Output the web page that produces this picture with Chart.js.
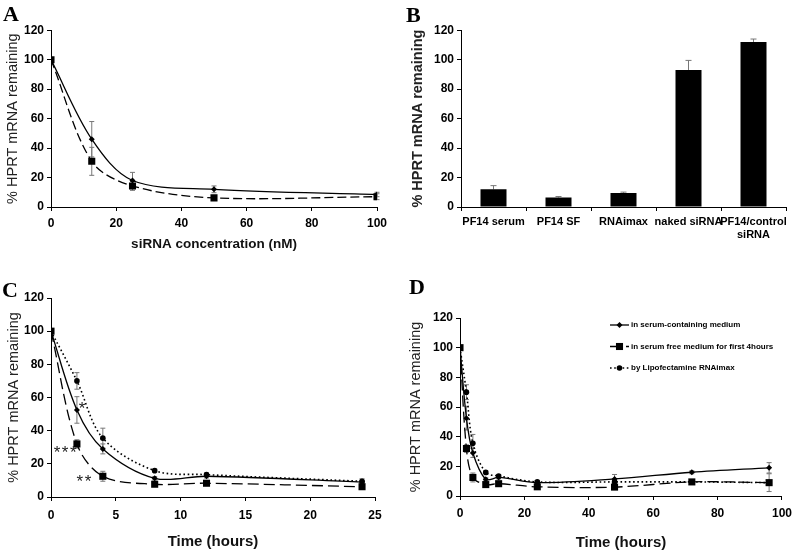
<!DOCTYPE html>
<html>
<head>
<meta charset="utf-8">
<script src="https://cdn.jsdelivr.net/npm/chart.js@4.4.1/dist/chart.umd.min.js"></script>
<style>
  body { margin: 0; background: #fff; width: 798px; height: 553px; position: relative; overflow: hidden; }
  canvas { position: absolute; }
  .tag { position: absolute; font-family: 'Liberation Serif', 'Times New Roman', serif; font-weight: bold; font-size: 22px; line-height: 1; color: #000; z-index: 2; }
</style>
</head>
<body>
<div class="tag" style="left:3px;top:3px">A</div>
<div class="tag" style="left:406px;top:4px">B</div>
<div class="tag" style="left:2px;top:279px">C</div>
<div class="tag" style="left:409px;top:276px">D</div>

<canvas id="chartA" width="400" height="240" style="left:0;top:20px"></canvas>
<canvas id="chartB" width="398" height="240" style="left:400px;top:20px"></canvas>
<canvas id="chartC" width="400" height="273" style="left:0;top:280px"></canvas>
<canvas id="chartD" width="398" height="273" style="left:400px;top:280px"></canvas>

<script>
// ---- data ----
// A: knockdown vs siRNA concentration
var concA = [0, 12.5, 25, 50, 100];
var serumA = [100, 46, 18, 12, 8.5];
var serumAErr = [0, 12, 5.5, 2.3, 1.5];
var sfA = [100, 31, 14.3, 6.2, 7];
var sfAErr = [0, 9.5, 3, 0.6, 2];

// B: bar chart
var groupsB = ['PF14 serum', 'PF14 SF', 'RNAimax', 'naked siRNA', ['PF14/control', 'siRNA']];
var valuesB = [12, 6.5, 9.5, 93, 112];
var errB = [2.5, 0.6, 0.6, 6.5, 2];

// C: time course, first 24 h
var hoursC = [0, 2, 4, 8, 12, 24];
var serumC = [100, 52.5, 29, 11.3, 12.5, 9];
var serumCErr = [0, 8, 3, 1, 1, 1];
var sfC = [100, 32, 12.5, 7.7, 8.3, 6.2];
var sfCErr = [0, 2.5, 3, 0.5, 0.8, 1.5];
var rnaiC = [100, 70, 35.5, 15.9, 13.5, 9.5];
var rnaiCErr = [0, 5, 6, 1, 1, 1.5];
var starX = [2.45, 1.15, 2.6];
var starY = [55, 28.5, 11.5];
var starText = ['*', '***', '**'];

// D: time course, up to 96 h
var hoursD = [0, 2, 4, 8, 12, 24, 48, 72, 96];
var serumD = [100, 52.5, 29, 11.3, 12.5, 9, 11.5, 16, 19];
var serumDErr = [0, 8, 3, 1, 1, 1, 3, 1, 3.5];
var sfD = [100, 32, 12.5, 7.7, 8.3, 6.2, 6, 9.5, 9];
var sfDErr = [0, 2.5, 3, 0.5, 0.8, 1, 1, 1.5, 6];
var rnaiD = [100, 70, 35.5, 15.9, 13.5, 9.5, 9.5, 9.5, 9];
var rnaiDErr = [0, 5, 6, 1, 1, 1, 1, 1, 1];

var labelSerum = 'in serum-containing medium';
var labelSF = 'in serum free medium for first 4hours';
var labelRnai = 'by Lipofectamine RNAimax';

// ---- styling helpers ----
var FONT = "'Liberation Sans', Arial, sans-serif";
var tickFont = { family: FONT, size: 12, weight: 'bold' };

function xy(xs, ys) {
    return xs.map(function(x, i) { return { x: x, y: ys[i] }; });
}

function line(label, xs, ys, errs, kind) {
    var ds = {
        label: label,
        data: xy(xs, ys),
        errors: errs,
        borderColor: '#000',
        backgroundColor: '#000',
        pointBackgroundColor: '#000',
        pointBorderColor: '#000',
        pointBorderWidth: 0,
        borderWidth: 1.3,
        tension: 0.33,
        fill: false
    };
    if (kind === 'solid') { ds.pointStyle = 'rectRot'; ds.pointRadius = 3; ds.borderDash = []; }
    if (kind === 'dash') { ds.pointStyle = 'rect'; ds.pointRadius = 5; ds.borderDash = [9, 4]; }
    if (kind === 'longdash') { ds.pointStyle = 'rect'; ds.pointRadius = 5; ds.borderDash = [11, 5]; }
    if (kind === 'dot') { ds.pointStyle = 'circle'; ds.pointRadius = 2.8; ds.borderDash = [1.6, 2.6]; ds.borderWidth = 1.6; }
    return ds;
}

function axisGrid() {
    return { display: true, drawOnChartArea: false, drawTicks: true, tickLength: 4, color: '#000', lineWidth: 1 };
}

function yScale(title, width, titlePad, bold, size) {
    return {
        min: 0, max: 120,
        ticks: { stepSize: 20, font: tickFont, color: '#000', padding: 3 },
        grid: axisGrid(),
        border: { display: true, color: '#000', width: 1 },
        title: {
            display: true, text: title, color: '#222',
            font: { family: FONT, size: size, weight: bold ? 'bold' : 'normal' },
            padding: { top: titlePad, bottom: 0 }
        },
        afterFit: function(scale) { scale.width = width; }
    };
}

function xLinear(max, step, title, height, tickPad, titleSize, titlePad) {
    return {
        type: 'linear', min: 0, max: max,
        ticks: { stepSize: step, font: tickFont, color: '#000', padding: tickPad, maxRotation: 0 },
        grid: axisGrid(),
        border: { display: true, color: '#000', width: 1 },
        title: {
            display: true, text: title, color: '#111',
            font: { family: FONT, size: titleSize, weight: 'bold' },
            padding: { top: 0, bottom: titlePad }
        },
        afterFit: function(scale) { scale.height = height; }
    };
}

// error bars drawn through the y scale, under the markers
function drawErrors(chart, opts) {
    var ctx = chart.ctx;
    var ys = chart.scales.y;
    chart.data.datasets.forEach(function(ds, i) {
        if (!ds.errors) return;
        var meta = chart.getDatasetMeta(i);
        meta.data.forEach(function(el, j) {
            var e = ds.errors[j];
            if (!e) return;
            var raw = ds.data[j];
            var v = (typeof raw === 'object') ? raw.y : raw;
            var top = ys.getPixelForValue(v + e);
            var bot = opts.upOnly ? ys.getPixelForValue(v) : ys.getPixelForValue(v - e);
            var w = opts.cap || 2.5;
            ctx.save();
            ctx.strokeStyle = '#777';
            ctx.lineWidth = 1;
            ctx.beginPath();
            ctx.moveTo(el.x, top); ctx.lineTo(el.x, bot);
            ctx.moveTo(el.x - w, top); ctx.lineTo(el.x + w, top);
            if (!opts.upOnly) { ctx.moveTo(el.x - w, bot); ctx.lineTo(el.x + w, bot); }
            ctx.stroke();
            ctx.restore();
        });
    });
}

var errorBars = {
    id: 'errorBars',
    beforeDatasetsDraw: function(chart, args, opts) { drawErrors(chart, opts); }
};

var stars = {
    id: 'stars',
    afterDatasetsDraw: function(chart) {
        var ctx = chart.ctx;
        ctx.save();
        ctx.fillStyle = '#222';
        ctx.font = '17px ' + FONT;
        ctx.letterSpacing = '1.5px';
        ctx.textAlign = 'center';
        ctx.textBaseline = 'middle';
        for (var i = 0; i < starText.length; i++) {
            var px = chart.scales.x.getPixelForValue(starX[i]);
            var py = chart.scales.y.getPixelForValue(starY[i]);
            ctx.fillText(starText[i], px, py + 4);
        }
        ctx.restore();
    }
};

function marker(ctx, style, r, x, y) {
    ctx.beginPath();
    if (style === 'rect') {
        var s = r * Math.SQRT1_2;
        ctx.rect(x - s, y - s, 2 * s, 2 * s);
    } else if (style === 'rectRot') {
        ctx.moveTo(x, y - r); ctx.lineTo(x + r, y); ctx.lineTo(x, y + r); ctx.lineTo(x - r, y); ctx.closePath();
    } else {
        ctx.arc(x, y, r, 0, Math.PI * 2);
    }
    ctx.fill();
}

var legendD = {
    id: 'legendD',
    afterDraw: function(chart) {
        var ctx = chart.ctx;
        chart.data.datasets.forEach(function(ds, i) {
            var y = 45 + i * 21.5;
            var x0 = 210, x1 = 229;
            ctx.save();
            ctx.strokeStyle = '#000';
            ctx.fillStyle = '#000';
            ctx.lineWidth = 1.3;
            ctx.setLineDash(ds.borderDash || []);
            ctx.beginPath(); ctx.moveTo(x0, y); ctx.lineTo(x1, y); ctx.stroke();
            ctx.setLineDash([]);
            marker(ctx, ds.pointStyle, ds.pointRadius, (x0 + x1) / 2, y);
            ctx.font = 'bold 8px ' + FONT;
            ctx.textBaseline = 'middle';
            ctx.fillText(ds.label, x1 + 2, y);
            ctx.restore();
        });
    }
};

var common = {
    responsive: false,
    animation: false,
    events: [],
    plugins: { legend: { display: false }, tooltip: { enabled: false } }
};

function opts(extra) {
    return Object.assign({}, common, extra);
}

// A
new Chart(document.getElementById('chartA').getContext('2d'), {
    type: 'line',
    data: {
        datasets: [
            line('serum', concA, serumA, serumAErr, 'solid'),
            line('serum free', concA, sfA, sfAErr, 'dash')
        ]
    },
    options: opts({
        layout: { padding: { top: 8, right: 23, left: 0, bottom: 0 } },
        scales: {
            x: xLinear(100, 20, 'siRNA concentration (nM)', 53, 5, 13.5, 8),
            y: yScale('% HPRT mRNA remaining', 51, 4, false, 14.5)
        }
    }),
    plugins: [errorBars]
});

// B
new Chart(document.getElementById('chartB').getContext('2d'), {
    type: 'bar',
    data: {
        labels: groupsB,
        datasets: [{
            data: valuesB,
            errors: errB,
            backgroundColor: '#000',
            borderWidth: 0,
            barPercentage: 0.4,
            categoryPercentage: 1
        }]
    },
    options: opts({
        layout: { padding: { top: 10, right: 12, left: 0, bottom: 0 } },
        plugins: { legend: { display: false }, tooltip: { enabled: false }, errorBars: { upOnly: true, cap: 3 } },
        scales: {
            x: {
                ticks: { font: { family: FONT, size: 11, weight: 'bold' }, color: '#000', padding: 4, maxRotation: 0, autoSkip: false },
                grid: axisGrid(),
                border: { display: true, color: '#000', width: 1 },
                afterFit: function(scale) { scale.height = 53; }
            },
            y: yScale('% HPRT mRNA remaining', 61, 9, true, 14.5)
        }
    }),
    plugins: [errorBars]
});

// C
new Chart(document.getElementById('chartC').getContext('2d'), {
    type: 'line',
    data: {
        datasets: [
            line(labelSerum, hoursC, serumC, serumCErr, 'solid'),
            line(labelSF, hoursC, sfC, sfCErr, 'longdash'),
            line(labelRnai, hoursC, rnaiC, rnaiCErr, 'dot')
        ]
    },
    options: opts({
        layout: { padding: { top: 18, right: 25, left: 0, bottom: 0 } },
        scales: {
            x: xLinear(25, 5, 'Time (hours)', 56, 7, 15, 2),
            y: yScale('% HPRT mRNA remaining', 51, 5, false, 14.5)
        }
    }),
    plugins: [errorBars, stars]
});

// D
new Chart(document.getElementById('chartD').getContext('2d'), {
    type: 'line',
    data: {
        datasets: [
            line(labelSerum, hoursD, serumD, serumDErr, 'solid'),
            line(labelSF, hoursD, sfD, sfDErr, 'longdash'),
            line(labelRnai, hoursD, rnaiD, rnaiDErr, 'dot')
        ]
    },
    options: opts({
        layout: { padding: { top: 38, right: 14, left: 0, bottom: 0 } },
        scales: {
            x: xLinear(100, 20, 'Time (hours)', 57, 6, 15, 1),
            y: yScale('% HPRT mRNA remaining', 60, 7, false, 14.5)
        }
    }),
    plugins: [errorBars, legendD]
});
</script>
</body>
</html>
